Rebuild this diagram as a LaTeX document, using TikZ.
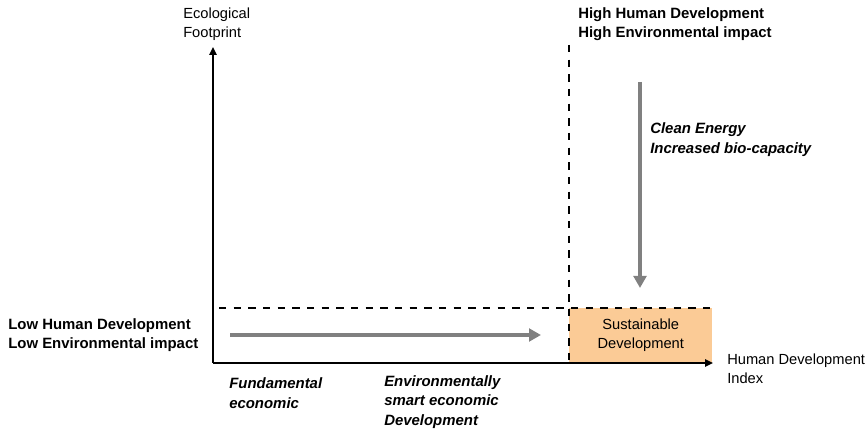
\documentclass[tikz,border=0pt]{standalone}
\usepackage{fontspec}
\setmainfont{Liberation Sans}
\usetikzlibrary{arrows.meta,positioning}

\definecolor{sustfill}{RGB}{251,203,150}
\definecolor{trendgray}{RGB}{128,128,128}

\begin{document}
\begin{tikzpicture}[
  x=0.75pt,y=-0.75pt,
  font=\fontsize{11}{14.5}\selectfont,
  axis/.style    ={-{Triangle[length=6pt,width=5.5pt]},line width=1.4pt},
  guide/.style   ={line width=1.4pt,dash pattern=on 5.5pt off 5.5pt},
  trend/.style   ={-{Triangle[length=9pt,width=9.5pt]},line width=3pt,draw=trendgray},
  plain/.style   ={align=left,inner sep=0pt},
  boldnote/.style={plain,font=\fontsize{11.2}{14.5}\selectfont\bfseries},
  itnote/.style  ={plain,font=\fontsize{11.2}{14.5}\selectfont\bfseries\itshape},
]
\useasboundingbox (0,0) rectangle (865,431);

%% --- key points of the chart ---
\coordinate (origin) at (213,363);
\coordinate (ytip)   at (213,47);
\coordinate (xtip)   at (713,363);
\coordinate (vtop)   at (569,45);
\coordinate (vbot)   at (569,363);
\coordinate (hleft)  at (219,308);
\coordinate (hright) at (712,308);

%% --- sustainable corner ---
\node[fill=sustfill,minimum width=107.25pt,minimum height=41.25pt,inner sep=0pt,
      anchor=south west,align=center] (sust) at (vbot) {Sustainable\\Development};

%% --- thresholds ---
\draw[guide] (vtop)  -- (vbot);
\draw[guide] (hleft) -- (hright);

%% --- axes ---
\draw[axis] (origin) -- (ytip);
\draw[axis] (origin) -- (xtip);

%% --- development paths ---
\coordinate (hpstart) at (230,335);
\coordinate (hpend)   at (541,335);
\coordinate (vpstart) at (640,82);
\coordinate (vpend)   at (640,288);
\draw[trend] (hpstart) -- (hpend);
\draw[trend] (vpstart) -- (vpend);

%% --- texts ---
\node[plain,anchor=west]    (yname) at (183,24)  {Ecological\\Footprint};
\node[plain,anchor=west]    (xname) at (727,369) {Human Development\\Index};
\node[boldnote,anchor=west] (high)  at (578,24.5){High Human Development\\High Environmental impact};
\node[boldnote,anchor=west] (low)   at (8,335)   {Low Human Development\\Low Environmental impact};
\node[itnote,anchor=west]   (clean) at (650,139.5){Clean Energy\\Increased bio-capacity};
\node[itnote,anchor=west]   (fund)  at (229,393) {Fundamental\\economic};
\node[itnote,anchor=west]   (smart) at (384,402) {Environmentally\\smart economic\\Development};

\end{tikzpicture}
\end{document}
